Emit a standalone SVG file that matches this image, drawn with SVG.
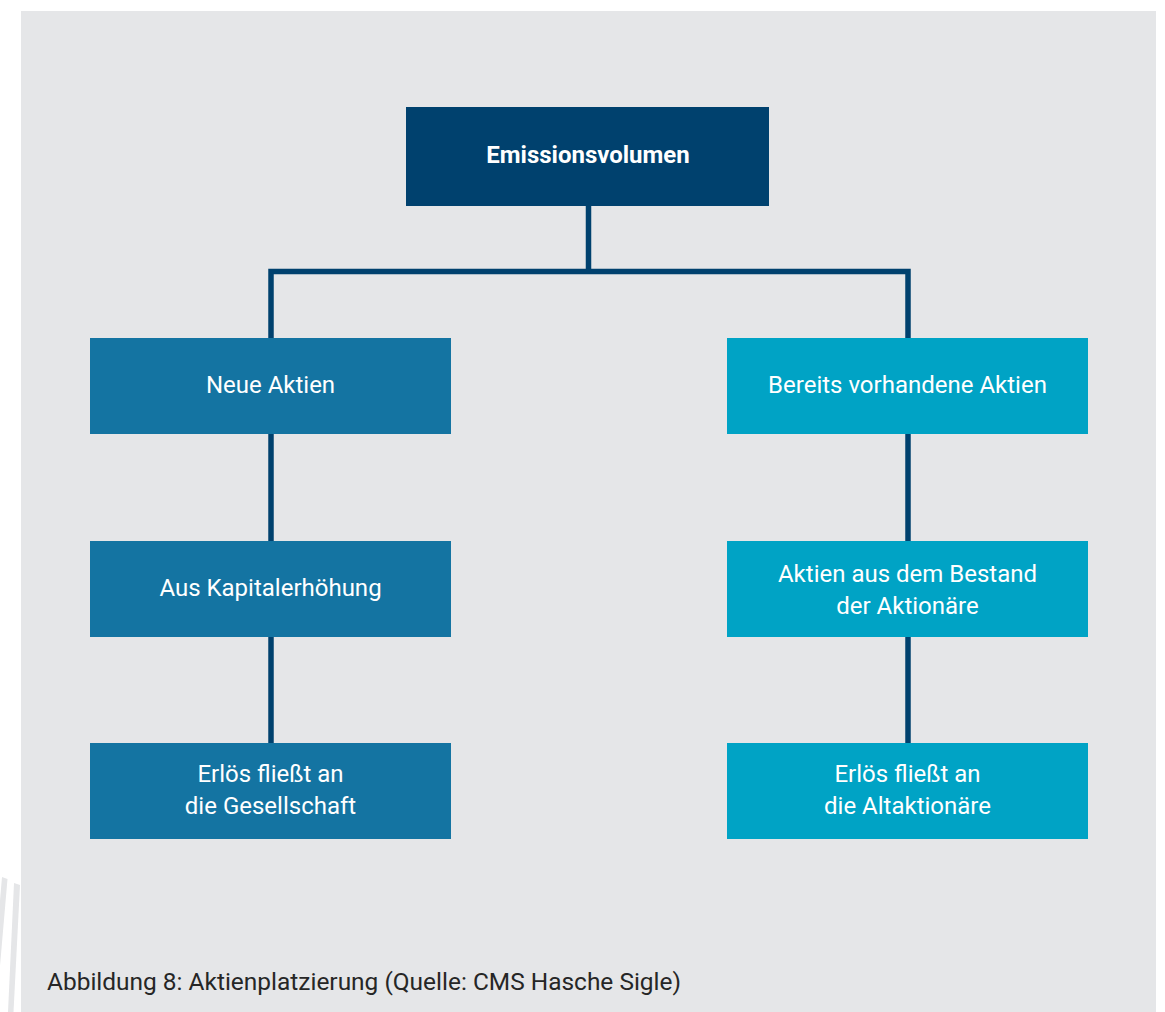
<svg xmlns="http://www.w3.org/2000/svg" width="1165" height="1012" viewBox="0 0 1165 1012">
  <style>
    .lbl { font-family: Roboto, "Liberation Sans", sans-serif; font-size: 24px; fill: #ffffff; text-anchor: middle; }
    .bold { font-weight: bold; }
    .left { fill: #1474a2; }
    .right { fill: #00a3c5; }
    .top { fill: #00416e; }
    .conn { stroke: #00416e; stroke-width: 5.5; fill: none; stroke-linejoin: miter; }
    .cap { font-family: Roboto, "Liberation Sans", sans-serif; font-size: 24px; fill: #262626; }
  </style>
  <rect x="0" y="0" width="1165" height="1012" fill="#ffffff"/>
  <g id="stripes" fill="#e5e6e8">
    <polygon points="2,877 7.5,879 -4,1012 -9.5,1012"/>
    <polygon points="14,883 20,885 13.5,1012 8,1012"/>
  </g>
  <rect id="background" x="21" y="11" width="1135" height="1001" fill="#e5e6e8"/>

  <g id="connectors">
    <path class="conn" d="M588.5,206 V271.5"/>
    <path class="conn" d="M271,338 V271.5 H908 V338"/>
    <path class="conn" d="M271,434 V541"/>
    <path class="conn" d="M271,637 V743"/>
    <path class="conn" d="M908,434 V541"/>
    <path class="conn" d="M908,637 V743"/>
  </g>

  <g id="node-emissionsvolumen">
    <rect class="top" x="406" y="107" width="363" height="99"/>
    <text class="lbl bold" x="588" y="162.5">Emissionsvolumen</text>
  </g>
  <g id="node-neue-aktien">
    <rect class="left" x="90" y="338" width="361" height="96"/>
    <text class="lbl" x="270.5" y="393">Neue Aktien</text>
  </g>
  <g id="node-bereits-vorhandene">
    <rect class="right" x="727" y="338" width="361" height="96"/>
    <text class="lbl" x="907.5" y="393">Bereits vorhandene Aktien</text>
  </g>
  <g id="node-kapitalerhoehung">
    <rect class="left" x="90" y="541" width="361" height="96"/>
    <text class="lbl" x="270.5" y="596">Aus Kapitalerhöhung</text>
  </g>
  <g id="node-bestand">
    <rect class="right" x="727" y="541" width="361" height="96"/>
    <text class="lbl" x="907.5" y="582">Aktien aus dem Bestand</text>
    <text class="lbl" x="907.5" y="614">der Aktionäre</text>
  </g>
  <g id="node-erloes-gesellschaft">
    <rect class="left" x="90" y="743" width="361" height="96"/>
    <text class="lbl" x="270.5" y="782">Erlös fließt an</text>
    <text class="lbl" x="270.5" y="814">die Gesellschaft</text>
  </g>
  <g id="node-erloes-altaktionaere">
    <rect class="right" x="727" y="743" width="361" height="96"/>
    <text class="lbl" x="907.5" y="782">Erlös fließt an</text>
    <text class="lbl" x="907.5" y="814">die Altaktionäre</text>
  </g>

  <text id="caption" class="cap" x="47" y="990" textLength="634" lengthAdjust="spacingAndGlyphs">Abbildung 8: Aktienplatzierung (Quelle: CMS Hasche Sigle)</text>
</svg>
